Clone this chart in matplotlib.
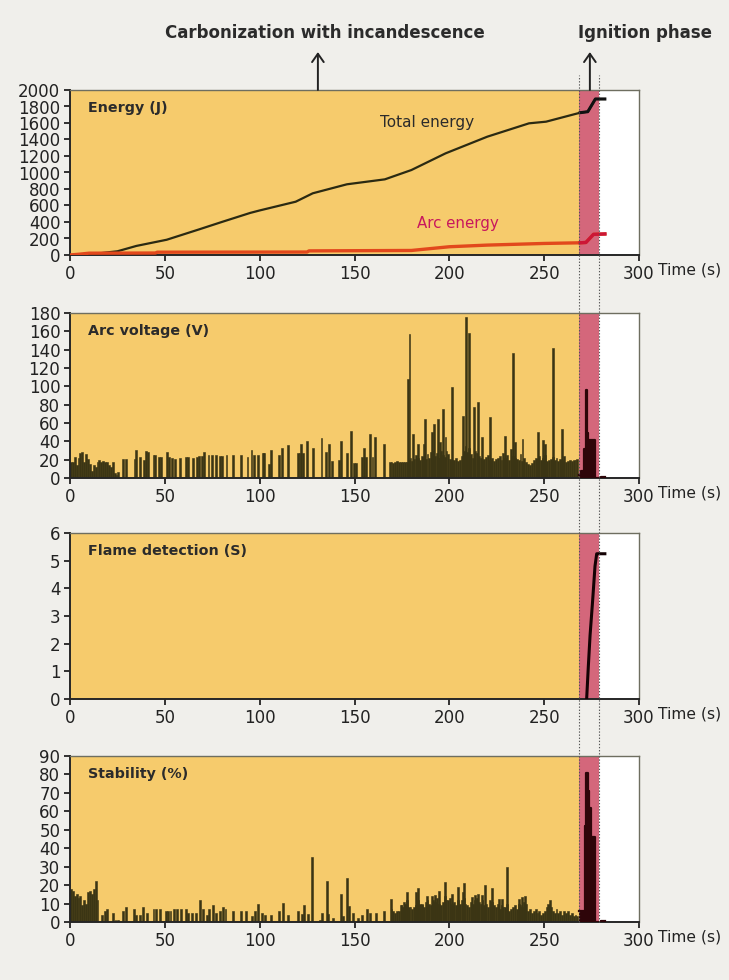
import matplotlib
matplotlib.use("Agg")
import matplotlib.pyplot as plt
import numpy as np
from matplotlib.lines import Line2D
from matplotlib.transforms import offset_copy

# ---------------- data ----------------
carbon_end = 268.5
ignition_end = 279.0

# Energy (J)
total_t = [0, 10, 19, 25, 35, 51, 68, 80, 95, 100, 119, 128, 146, 166, 180, 198, 220, 242, 251, 269, 273, 277, 282]
total_e = [0, 5, 30, 45, 110, 185, 310, 400, 510, 540, 646, 748, 857, 917, 1030, 1232, 1434, 1596, 1616, 1725, 1737, 1891, 1891]
arc_t = [0, 5, 10, 45, 46, 125, 126, 180, 200, 220, 250, 269, 272, 276, 282]
arc_e = [0, 10, 22, 24, 34, 36, 50, 55, 100, 120, 140, 148, 152, 250, 255]

# Arc voltage (V)
volt_early = [18, 17, 23, 14, 22, 27, 28, 17, 26, 21, 15, 8, 14, 12, 17, 20, 18, 19, 18, 18, 14, 12, 17, 5, 3, 7]
volt_spike_t = [27.8, 29.5, 34, 35, 37, 39, 40, 41, 44, 45, 47, 48, 51.3, 52.4, 54, 55.4, 58, 61, 62.4, 65,
                66.8, 68, 69.4, 70.7, 73, 74.7, 77, 79, 80, 82.5, 86, 90, 93.6, 95.7, 97, 99, 101.8, 102.5,
                105, 106, 110, 112, 115, 120, 121, 121.7, 123, 125, 128, 132.6, 135, 136.5, 138, 141.6,
                142.8, 146, 148, 149.7, 151, 154, 155, 156, 158, 159.5, 161, 165.5,
                178, 179, 181, 183.6, 186.5, 187.4, 191, 192, 194, 195, 196.8, 198, 201.3, 207, 209, 210.5,
                213, 215, 217, 221.6, 229.3, 233.4, 234.6, 238.6, 246.6, 249.2, 250.4, 254.5, 259.2]
volt_spike_v = [21, 21, 21, 31, 23, 20, 29, 28, 25, 25, 23, 23, 28, 23, 22, 21, 22, 23, 23, 22,
                23, 24, 24, 28, 25, 25, 25, 24, 24, 25, 25, 25, 23, 31, 25, 25, 27, 27,
                15, 31, 25, 33, 36, 27, 27, 37, 27, 40, 33, 44, 28, 37, 19, 20,
                40, 27, 51, 16, 16, 23, 33, 23, 48, 23, 45, 37,
                108, 157, 48, 37, 37, 64, 50, 59, 64, 39, 75, 45, 99, 68, 176, 158,
                78, 83, 45, 67, 46, 136, 39, 43, 50, 41, 37, 142, 54]
volt_dense = [17, 18, 16, 18, 19, 17, 18, 18, 17, 18,
              20, 22, 19, 21, 25, 22, 20, 24, 23, 21,
              26, 22, 28, 30, 24, 27, 22, 29, 25, 23,
              30, 26, 21, 20, 20, 22, 19, 20, 24, 30,
              35, 28, 33, 26, 22, 30, 27, 24, 22, 20,
              21, 23, 25, 20, 22, 19, 21, 22, 24, 20,
              27, 22, 25, 20, 32, 24, 22, 21, 20, 26,
              19, 22, 18, 15, 14, 16, 20, 22, 21, 24,
              20, 22, 25, 19, 20, 21, 23, 20, 22, 19,
              21, 20, 24, 18, 19, 20, 19, 20, 20, 21]
volt_ign_t = [268.6, 269.4, 270.4, 271.0, 271.8, 272.4, 272.8, 273.2, 273.6, 276.2, 276.6, 280.0, 282.0]
volt_ign_v = [3, 8, 8, 32, 96, 49, 49, 2, 41, 41, 0, 1.5, 1.5]

# Flame detection (S)
flame_t = [0, 268, 272.4, 273.3, 274.2, 275.6, 276.8, 277.7, 282]
flame_v = [0, 0, 0, 1.2, 2.3, 3.6, 4.8, 5.25, 5.25]

# Stability (%)
stab_early = [18, 17, 14, 15, 13, 14, 9, 12, 10, 16, 17, 15, 18, 22, 12]
stab_spike_t = [16.7, 18.5, 19.5, 22.5, 24, 25.5, 27.8, 29.5, 33.7, 35, 36.7, 38.7, 40.5, 44, 45.5, 47.5,
                50.4, 51.8, 53, 54.8, 56.2, 58.3, 61, 62.2, 64.5, 66.6, 68.5, 70.3, 72, 73.5, 75.2, 77,
                79, 80.5, 82, 86, 90, 93, 95.8, 97.5, 99.3, 101, 103, 106, 110, 112.5, 115, 120.4, 122.1,
                123.5, 125.3, 127.7, 131.8, 133, 135.3, 136.2, 138.8, 142.9, 144, 146.2, 147, 149, 152,
                154, 156.4, 158, 161.3, 165.7,
                169.2, 174.8, 176, 177.5, 182.4, 183.6, 185.4, 188, 190.7, 192.4, 194.7, 197.7, 201.2,
                204.4, 207, 207.9, 211.8, 213.5, 215.3, 217, 218.8, 222.3, 226.2, 227.6, 230.2, 236.9,
                238.1, 239.9, 252.2, 253.1]
stab_spike_v = [4, 6, 7, 5, 1, 1, 6, 8, 7, 4, 4, 8, 5, 7, 7, 7,
                6, 6, 6, 7, 7, 7, 7, 5, 5, 5, 12, 7, 4, 7, 9, 5,
                6, 8, 7, 6, 6, 6, 3, 6, 10, 5, 4, 4, 6, 10.5, 4, 6, 4.5,
                9, 4.5, 35, 1, 5, 22, 4.5, 2, 15, 3, 24, 8.5, 5, 2,
                4, 7, 5, 5, 6,
                12.7, 9, 11, 16, 16, 18.4, 10, 14, 14, 14.5, 17, 21.7, 15,
                19, 16, 21, 13.5, 14.5, 15, 14.5, 20, 18.4, 12.5, 12.7, 30, 12.5,
                13.5, 14, 10, 12]
stab_dense = [7, 6, 5, 6, 6, 9, 8, 10, 12, 8,
              8, 7, 8, 9, 12, 10, 9, 8, 11, 12,
              10, 9, 12, 11, 13, 10, 9, 11, 14, 12,
              12, 13, 10, 11, 9, 12, 10, 12, 13, 10,
              9, 8, 11, 10, 12, 13, 11, 10, 12, 9,
              10, 8, 12, 11, 9, 8, 10, 7, 9, 8,
              8, 10, 6, 7, 8, 9, 7, 10, 9, 8,
              11, 10, 6, 7, 5, 6, 7, 5, 6, 4,
              5, 6, 8, 9, 8, 6, 5, 7, 5, 6,
              4, 6, 5, 6, 4, 5, 3, 4, 3]
stab_ign_t = [268.6, 269.4, 270.4, 271.4, 272.2, 273.0, 273.8, 274.6, 275.4, 276.2, 276.6, 280.0, 282.0]
stab_ign_v = [6, 6, 6, 52, 81, 71, 62, 46, 46, 46, 0, 0.8, 0.8]

# ---------------- style ----------------
BG = '#f0efeb'
ORANGE = '#f6cb6c'
PINK = '#d4677b'
DARK = '#3b3514'
DARK_IGN = '#2e0509'
plt.rcParams['font.family'] = ['DejaVu Sans']

fig = plt.figure(figsize=(7.29, 9.8), dpi=100, facecolor=BG)

L, W = 70 / 729, 569 / 729
ax1 = fig.add_axes([L, 1 - 255 / 980, W, 165 / 980])
ax2 = fig.add_axes([L, 1 - 478 / 980, W, 165 / 980])
ax3 = fig.add_axes([L, 1 - 699 / 980, W, 166 / 980])
ax4 = fig.add_axes([L, 1 - 922 / 980, W, 166 / 980])

panels = [(ax1, 2000, 200, 'Energy (J)'),
          (ax2, 180, 20, 'Arc voltage (V)'),
          (ax3, 6, 1, 'Flame detection (S)'),
          (ax4, 90, 10, 'Stability (%)')]

for ax, ymax, step, label in panels:
    ax.set_facecolor('white')
    ax.axvspan(0, carbon_end, color=ORANGE, lw=0, zorder=0)
    ax.axvspan(carbon_end, ignition_end, color=PINK, lw=0, zorder=0)
    ax.set_xlim(0, 300)
    ax.set_ylim(0, ymax)
    ax.set_xticks(np.arange(0, 301, 50))
    ax.set_yticks(np.arange(0, ymax + step / 2, step))
    ax.tick_params(direction='out', length=4, width=1.3, labelsize=12, pad=3,
                   colors='#222222')
    for s in ['left', 'bottom']:
        ax.spines[s].set_color('#262626')
        ax.spines[s].set_linewidth(1.4)
    for s in ['top', 'right']:
        ax.spines[s].set_color('#6e6e60')
        ax.spines[s].set_linewidth(1.0)
    ax.text(0.032, 0.89, label, transform=ax.transAxes, fontsize=10.3,
            fontweight='bold', color='#2b2b2b', va='center', ha='left')
    tr = offset_copy(ax.transAxes, fig=fig, x=0, y=-5.5, units='points')
    ax.text(1.033, 0, 'Time (s)', transform=tr, fontsize=11.2, va='top',
            ha='left', color='#222222')

# energy
ax1.plot(total_t, total_e, color='#2b2a12', lw=1.6, zorder=3)
arc_t_a = np.array(arc_t)
arc_e_a = np.array(arc_e)
ax1.plot(arc_t_a, arc_e_a, color='#e2481c', lw=2.4, zorder=3)
m = arc_t_a >= 268
ax1.plot(arc_t_a[m], arc_e_a[m], color='#cc1636', lw=2.4, zorder=4)
tot_a = np.array(total_t)
mt = tot_a >= 268
ax1.plot(tot_a[mt], np.array(total_e)[mt], color='#111111', lw=2.2, zorder=4)
ax1.text(188, 1612, 'Total energy', fontsize=11, color='#2b2b2b', ha='center', va='center')
ax1.text(204.5, 376, 'Arc energy', fontsize=10.8, color='#c8175d', ha='center', va='center')

# arc voltage
bar_kw = dict(color=DARK, edgecolor=DARK, lw=0.4, zorder=2)
ax2.bar(np.arange(len(volt_early)) + 0.5, volt_early, width=1.0, **bar_kw)
ax2.bar(volt_spike_t, volt_spike_v, width=1.0, **bar_kw)
ax2.bar(np.arange(168, 168 + len(volt_dense)) + 0.5, volt_dense, width=1.0, **bar_kw)
ax2.fill_between(volt_ign_t, volt_ign_v, step='post', color=DARK_IGN, lw=0, zorder=3)
ax2.plot(volt_ign_t, volt_ign_v, drawstyle='steps-post', color=DARK_IGN, lw=1.6, zorder=3)

# flame detection
ax3.plot(flame_t[2:], flame_v[2:], color='#140204', lw=2.2, zorder=3)

# stability
ax4.bar(np.arange(len(stab_early)) + 0.5, stab_early, width=1.0, **bar_kw)
ax4.bar(stab_spike_t, stab_spike_v, width=1.0, **bar_kw)
ax4.bar(np.arange(169, 169 + len(stab_dense)) + 0.5, stab_dense, width=1.0, **bar_kw)
ax4.fill_between(stab_ign_t, stab_ign_v, step='post', color=DARK_IGN, lw=0, zorder=3)
ax4.plot(stab_ign_t, stab_ign_v, drawstyle='steps-post', color=DARK_IGN, lw=1.6, zorder=3)

# phase boundaries (dotted, spanning all panels)
for tb in [carbon_end, ignition_end]:
    xf = (70 + tb * 569 / 300) / 729
    fig.add_artist(Line2D([xf, xf], [1 - 922 / 980, 1 - 75 / 980], transform=fig.transFigure,
                          ls=(0, (1.2, 1.6)), lw=0.8, color='#555555', zorder=10))

# phase arrows and titles
for tx in [130.7, 274.1]:
    ax1.annotate('', xy=(tx, 1.23), xytext=(tx, 1.0), xycoords=('data', 'axes fraction'),
                 textcoords=('data', 'axes fraction'), annotation_clip=False,
                 arrowprops=dict(arrowstyle='->,head_length=0.6,head_width=0.42',
                                 lw=1.4, color='#222222', shrinkA=0, shrinkB=0))

fig.text(325 / 729, 1 - 33 / 980, 'Carbonization with incandescence', fontsize=12,
         fontweight='bold', color='#2b2b2b', ha='center', va='center')
fig.text(645 / 729, 1 - 33 / 980, 'Ignition phase', fontsize=12,
         fontweight='bold', color='#2b2b2b', ha='center', va='center')

fig.savefig('out.png', dpi=100, facecolor=BG)
